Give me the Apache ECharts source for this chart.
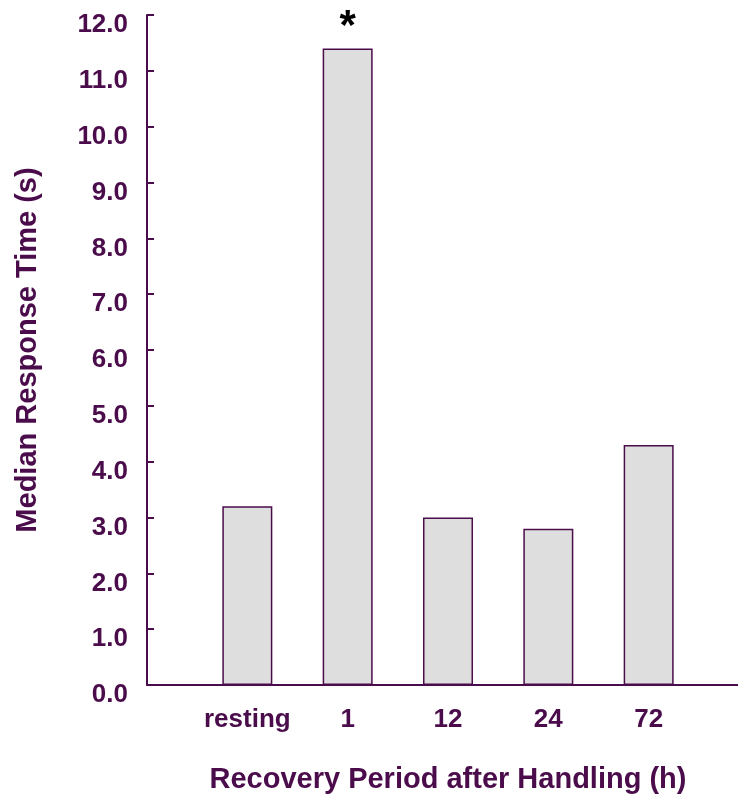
<!DOCTYPE html>
<html>
<head>
<meta charset="utf-8">
<script src="https://cdn.jsdelivr.net/npm/echarts@6/dist/echarts.min.js"></script>
<style>
html,body{margin:0;padding:0;background:#fff;}
#chart{width:738px;height:797px;}
</style>
</head>
<body>
<div id="chart"></div>
<script>
const categories = ['', 'resting', '1', '12', '24', '72', ''];
const medianTimes = [null, 3.2, 11.4, 3.0, 2.8, 4.3, null];
const significance = ['', '', '*', '', '', '', ''];
const yTicks = { min: 0, max: 12, interval: 1 };

const ink = '#4b0c4b';
const font = 'Liberation Sans, Arial, sans-serif';

const chart = echarts.init(document.getElementById('chart'));
chart.setOption({
  animation: false,
  backgroundColor: '#ffffff',
  grid: { left: 147, top: 15, width: 602, bottom: 112, containLabel: false, outerBoundsMode: 'none' },
  xAxis: {
    type: 'category',
    data: categories,
    boundaryGap: false,
    name: 'Recovery Period after Handling (h)',
    nameLocation: 'middle',
    nameGap: 80,
    nameTextStyle: { color: ink, fontSize: 29, fontWeight: 'bold', fontFamily: font },
    axisLine: { show: true, lineStyle: { color: ink, width: 2 } },
    axisTick: { show: false },
    axisLabel: { color: ink, fontSize: 26, fontWeight: 'bold', fontFamily: font, margin: 22, interval: 0 },
    splitLine: { show: false }
  },
  yAxis: {
    type: 'value',
    min: yTicks.min,
    max: yTicks.max,
    interval: yTicks.interval,
    name: 'Median Response Time (s)',
    nameLocation: 'middle',
    nameGap: 105,
    nameTextStyle: { color: ink, fontSize: 29, fontWeight: 'bold', fontFamily: font },
    axisLine: { show: true, lineStyle: { color: ink, width: 2 } },
    axisTick: { show: true, inside: true, length: 7, lineStyle: { color: ink, width: 2 } },
    axisLabel: { color: ink, fontSize: 26, fontWeight: 'bold', fontFamily: font, margin: 19,
      verticalAlign: 'top', lineHeight: 20,
      formatter: v => v.toFixed(1) },
    splitLine: { show: false }
  },
  series: [{
    type: 'bar',
    data: medianTimes,
    barWidth: 50,
    itemStyle: { color: '#dedede', borderColor: ink, borderWidth: 1.5 },
    label: {
      show: true,
      position: 'top',
      distance: 0,
      color: '#000',
      fontSize: 42,
      fontWeight: 'bold',
      fontFamily: font,
      formatter: p => significance[p.dataIndex] || ''
    }
  }]
});
</script>
</body>
</html>
